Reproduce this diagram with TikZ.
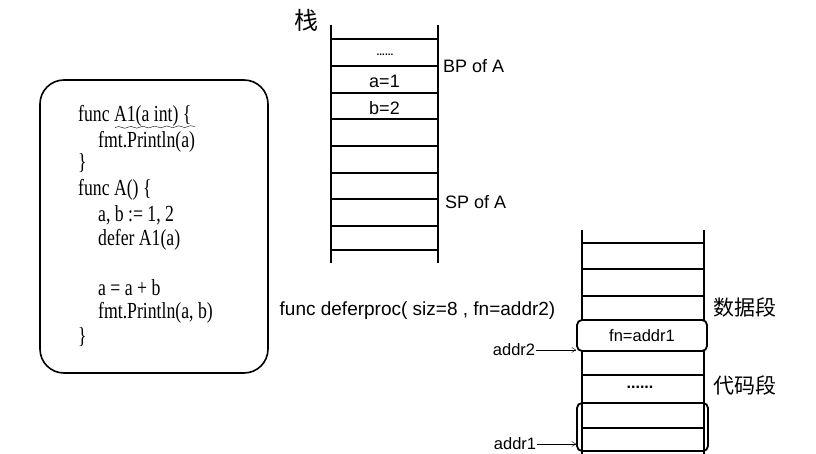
\documentclass[tikz,border=0pt]{standalone}
\usepackage{fontspec}
\setmainfont{Liberation Serif}
\setsansfont{Liberation Sans}
\newfontfamily\cjkfont{Noto Sans CJK SC}
\usetikzlibrary{arrows.meta,decorations.pathmorphing}

\begin{document}
\begin{tikzpicture}[
  x=1pt, y=-1pt,
  wall/.style      = {line width=1.4pt},
  codebox/.style   = {draw, line width=1.6pt, rounded corners=24pt,
                      minimum width=228pt, minimum height=293pt},
  code/.style      = {anchor=base west, inner sep=0pt, xscale=0.77,
                      font=\fontsize{23}{23}\selectfont\rmfamily},
  hand/.style      = {inner sep=1pt, font=\fontsize{18}{18}\selectfont\sffamily},
  small/.style     = {inner sep=1pt, font=\fontsize{16.5}{16.5}\selectfont\sffamily},
  cjk/.style       = {inner sep=0pt, font=\fontsize{21}{21}\selectfont\cjkfont},
  slot/.style      = {draw, line width=1.8pt, rounded corners=5pt, inner sep=0pt,
                      minimum width=130pt},
  ptr/.style       = {thin, -{Straight Barb[length=4pt,width=5pt]}},
]
  \useasboundingbox (0,0) rectangle (816,454);

  % source code
  \node[codebox] (src) at (154,226.5) {};
  \node[code] (l1) at (78,122) {func A1(a int) \{};
  \node[code] (l2) at (98,148) {fmt.Println(a)};
  \node[code] (l3) at (78,170) {\}};
  \node[code] (l4) at (78,196) {func A() \{};
  \node[code] (l5) at (98,222) {a, b := 1, 2};
  \node[code] (l6) at (98,246) {defer A1(a)};
  \node[code] (l7) at (98,295) {a = a + b};
  \node[code] (l8) at (98,318) {fmt.Println(a, b)};
  \node[code] (l9) at (78,343) {\}};
  \draw[thin, decorate, decoration={snake, amplitude=0.9pt, segment length=12pt}]
    (115,127.5) -- (195,126.5);

  % stack
  \node[cjk, font=\fontsize{24}{24}\selectfont\cjkfont] (zhan) at (306,20) {栈};
  \draw[wall] (331,25) -- (331,263);
  \draw[wall] (438,25) -- (438,263);
  \foreach \y in {39,66,93,119,146,173,199,226,250}
    \draw[wall] (331,\y) -- (438,\y);
  \node[inner sep=0pt, font=\fontsize{10}{10}\selectfont\bfseries\sffamily] (sdots) at (385,55) {......};
  \node[hand] (sa) at (384.5,81) {a=1};
  \node[hand] (sb) at (384.5,108) {b=2};
  \node[hand, anchor=west] (bp) at (442,66) {BP of A};
  \node[hand, anchor=west] (sp) at (444,202) {SP of A};

  % deferproc call
  \node[inner sep=0pt, font=\fontsize{19}{19}\selectfont\sffamily] (call) at (417.5,311)
    {func deferproc( siz=8 , fn=addr2)};

  % heap / segments
  \draw[wall] (582,230) -- (582,454);
  \draw[wall] (704,230) -- (704,454);
  \foreach \y in {243,269,296,322,349,375,403,428}
    \draw[wall] (582,\y) -- (704,\y);
  \node[slot, small, minimum height=31pt, fill=white] (fnslot) at (642,335.5) {fn=addr1};
  \node[small, font=\fontsize{16}{16}\selectfont\bfseries\sffamily] (hdots) at (640,387) {......};
  \node[slot, minimum width=131pt, minimum height=48pt] (fnbody) at (642.5,427) {};
  \node[cjk, anchor=west] (data) at (713,307) {数据段};
  \node[cjk, anchor=west] (text) at (713,385) {代码段};

  \node[small] (addr2) at (514,350) {addr2};
  \node[small] (addr1) at (515,444) {addr1};
  \draw[ptr] (addr2.east) -- (addr2.east -| fnslot.west);
  \draw[ptr] (addr1.east) -- (addr1.east -| fnbody.west);
\end{tikzpicture}
\end{document}
